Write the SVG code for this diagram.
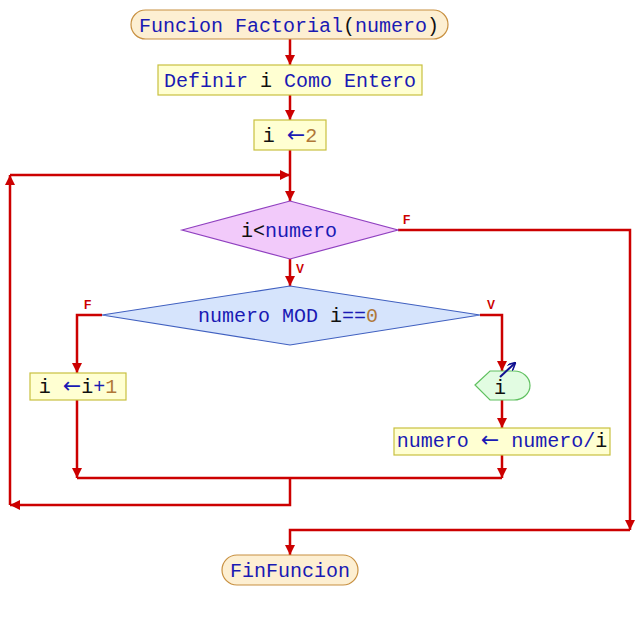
<svg xmlns="http://www.w3.org/2000/svg" width="640" height="620" viewBox="0 0 640 620">
<defs>
<marker id="ah" viewBox="0 0 10 10" refX="10" refY="5" markerWidth="10" markerHeight="10" markerUnits="userSpaceOnUse" orient="auto">
<path d="M0,0 L10,5 L0,10 Z" fill="#cc0000"/>
</marker>
<marker id="ab" viewBox="0 0 10 10" refX="9" refY="5" markerWidth="8" markerHeight="8" markerUnits="userSpaceOnUse" orient="auto">
<path d="M0,0 L10,5 L0,10" fill="none" stroke="#101090" stroke-width="2"/>
</marker>
<style>
.t{font-family:"Liberation Mono","DejaVu Sans Mono",monospace;font-size:20px;fill:#1a1ab4}
.k{fill:#101010}
.n{fill:#b07838}
.ar{font-family:"DejaVu Sans",sans-serif;font-size:22px;fill:#1a1ab4}
.c{fill:none;stroke:#cc0000;stroke-width:2.5}
.term{fill:#fdefd2;stroke:#c89040;stroke-width:1.2}
.proc{fill:#ffffd2;stroke:#c8c040;stroke-width:1.2}
.lbl{font-family:"Liberation Sans",Arial,sans-serif;font-size:12px;font-weight:bold;fill:#cc0000}
</style>
</defs>
<g id="connectors">
<path class="c" d="M290,39 V65" marker-end="url(#ah)"/>
<path class="c" d="M290,95 V120" marker-end="url(#ah)"/>
<path class="c" d="M290,150 V201" marker-end="url(#ah)"/>
<path class="c" d="M10,175 H290" marker-end="url(#ah)"/>
<path class="c" d="M290,259 V286" marker-end="url(#ah)"/>
<path class="c" d="M398,230 H630 V530" marker-end="url(#ah)"/>
<path class="c" d="M630,530 H290 V555" marker-end="url(#ah)"/>
<path class="c" d="M102,315 H77 V373" marker-end="url(#ah)"/>
<path class="c" d="M480,315 H502 V371" marker-end="url(#ah)"/>
<path class="c" d="M502,400 V428" marker-end="url(#ah)"/>
<path class="c" d="M77,400 V478" marker-end="url(#ah)"/>
<path class="c" d="M502,455 V478" marker-end="url(#ah)"/>
<path class="c" d="M77,478 H502"/>
<path class="c" d="M290,478 V505 H10" marker-end="url(#ah)"/>
<path class="c" d="M10,505 V175" marker-end="url(#ah)"/>
<text class="lbl" x="403" y="224">F</text>
<text class="lbl" x="296" y="273">V</text>
<text class="lbl" x="84" y="309">F</text>
<text class="lbl" x="487" y="309">V</text>
</g>
<g id="start">
<rect class="term" x="131" y="10" width="317" height="29" rx="14.5"/>
<text class="t" x="289" y="32" text-anchor="middle">Funcion Factorial<tspan class="k">(</tspan>numero<tspan class="k">)</tspan></text>
</g>
<g id="definir">
<rect class="proc" x="158" y="65" width="264" height="30"/>
<text class="t" x="290" y="87" text-anchor="middle">Definir <tspan class="k">i</tspan> Como Entero</text>
</g>
<g id="init">
<rect class="proc" x="254" y="120" width="72" height="30"/>
<text class="t" x="290" y="142" text-anchor="middle"><tspan class="k">i </tspan><tspan class="ar">←</tspan><tspan class="n">2</tspan></text>
</g>
<g id="cond1">
<path d="M182,230 L290,201 L398,230 L290,259 Z" fill="#f2cafa" stroke="#9040c0" stroke-width="1.2"/>
<text class="t" x="289" y="237" text-anchor="middle"><tspan class="k">i&lt;</tspan>numero</text>
</g>
<g id="cond2">
<path d="M102,315 L290,286 L480,315 L290,345 Z" fill="#d6e4fc" stroke="#4060c0" stroke-width="1.2"/>
<text class="t" x="288" y="322" text-anchor="middle">numero MOD <tspan class="k">i</tspan>==<tspan class="n">0</tspan></text>
</g>
<g id="incr">
<rect class="proc" x="30" y="373" width="96" height="27"/>
<text class="t" x="78" y="393" text-anchor="middle"><tspan class="k">i </tspan><tspan class="ar">←</tspan><tspan class="k">i</tspan>+<tspan class="n">1</tspan></text>
</g>
<g id="output">
<path d="M475,385 L490,371 L514,371 A16,14.5 0 0 1 514,400 L490,400 Z" fill="#e2fce2" stroke="#60c060" stroke-width="1.2"/>
<text class="t k" x="500" y="394" text-anchor="middle">i</text>
<path d="M500,377 L515,363" stroke="#101090" stroke-width="2" fill="none" marker-end="url(#ab)"/>
</g>
<g id="divide">
<rect class="proc" x="394" y="428" width="216" height="27"/>
<text class="t" x="502" y="447" text-anchor="middle">numero <tspan class="ar">←</tspan> numero/<tspan class="k">i</tspan></text>
</g>
<g id="end">
<rect class="term" x="222" y="555" width="136" height="30" rx="15"/>
<text class="t" x="290" y="577" text-anchor="middle">FinFuncion</text>
</g>
</svg>
